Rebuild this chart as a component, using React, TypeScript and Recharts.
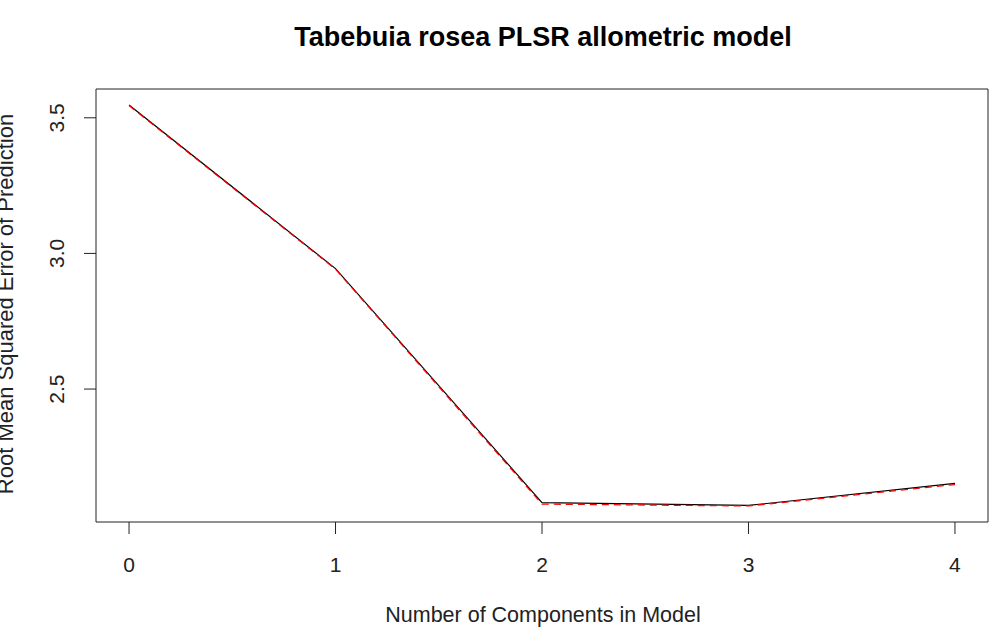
import React from "react";
import { LineChart, Line, XAxis, YAxis } from "recharts";

const components = [0, 1, 2, 3, 4];
const cvRmsep = [3.547, 2.944, 2.081, 2.071, 2.152];
const adjCvRmsep = [3.545, 2.942, 2.076, 2.069, 2.148];
const xTicks = [0, 1, 2, 3, 4];
const yTicks = [2.5, 3.0, 3.5];
const yTickLabels = ["2.5", "3.0", "3.5"];

const data = components.map((c, i) => ({ comp: c, cv: cvRmsep[i], adjcv: adjCvRmsep[i] }));

const all = [...cvRmsep, ...adjCvRmsep];
const yMin = Math.min(...all);
const yMax = Math.max(...all);
const yPad = (yMax - yMin) * 0.04;
const yDomain = [yMin - yPad, yMax + yPad];
const xPad = (4 - 0) * 0.04;
const xDomain = [0 - xPad, 4 + xPad];

const FONT = "'Liberation Sans', Arial, sans-serif";

const YTick = (props: any) => {
  const { y, payload } = props;
  const idx = yTicks.indexOf(payload.value);
  const label = idx >= 0 ? yTickLabels[idx] : String(payload.value);
  return (
    <text
      x={57}
      y={y}
      transform={`rotate(-90, 57, ${y})`}
      textAnchor="middle"
      dominantBaseline="central"
      fontFamily={FONT}
      fontSize={21}
      fill="#222"
    >
      {label}
    </text>
  );
};

const XTick = (props: any) => {
  const { x, payload } = props;
  return (
    <text x={x} y={564} textAnchor="middle" dominantBaseline="central" fontFamily={FONT} fontSize={21} fill="#222">
      {payload.value}
    </text>
  );
};

export default function App() {
  return (
    <div style={{ position: "absolute", left: 0, top: 0, width: 996, height: 641, background: "#fff" }}>
      <LineChart
        width={996}
        height={641}
        data={data}
        margin={{ top: 88, right: 7, bottom: 79, left: 36 }}
      >
        <XAxis
          dataKey="comp"
          type="number"
          domain={xDomain}
          ticks={xTicks}
          allowDataOverflow
          height={40}
          tickSize={12}
          stroke="#222"
          tick={<XTick />}
        />
        <XAxis
          xAxisId="top"
          orientation="top"
          type="number"
          domain={xDomain}
          allowDataOverflow
          height={1}
          tick={false}
          tickLine={false}
          stroke="#222"
        />
        <YAxis
          type="number"
          domain={yDomain}
          ticks={yTicks}
          allowDataOverflow
          width={60}
          tickSize={12}
          stroke="#222"
          tick={<YTick />}
        />
        <YAxis
          yAxisId="right"
          orientation="right"
          type="number"
          domain={yDomain}
          allowDataOverflow
          width={1}
          tick={false}
          tickLine={false}
          stroke="#222"
        />
        <Line
          dataKey="cv"
          stroke="#000"
          strokeWidth={1.2}
          dot={false}
          isAnimationActive={false}
          type="linear"
        />
        <Line
          dataKey="adjcv"
          stroke="#ff0000"
          strokeWidth={1.3}
          strokeDasharray="7 5"
          dot={false}
          isAnimationActive={false}
          type="linear"
        />
        <text x={543} y={37} textAnchor="middle" dominantBaseline="central" fontFamily={FONT} fontWeight="bold" fontSize={27} fill="#000">
          Tabebuia rosea PLSR allometric model
        </text>
        <text x={543} y={615} textAnchor="middle" dominantBaseline="central" fontFamily={FONT} fontSize={21.5} fill="#222">
          Number of Components in Model
        </text>
        <text
          x={13}
          y={304}
          transform="rotate(-90, 13, 304)"
          textAnchor="middle"
          fontFamily={FONT}
          fontSize={22}
          fill="#222"
        >
          Root Mean Squared Error of Prediction
        </text>
      </LineChart>
    </div>
  );
}
